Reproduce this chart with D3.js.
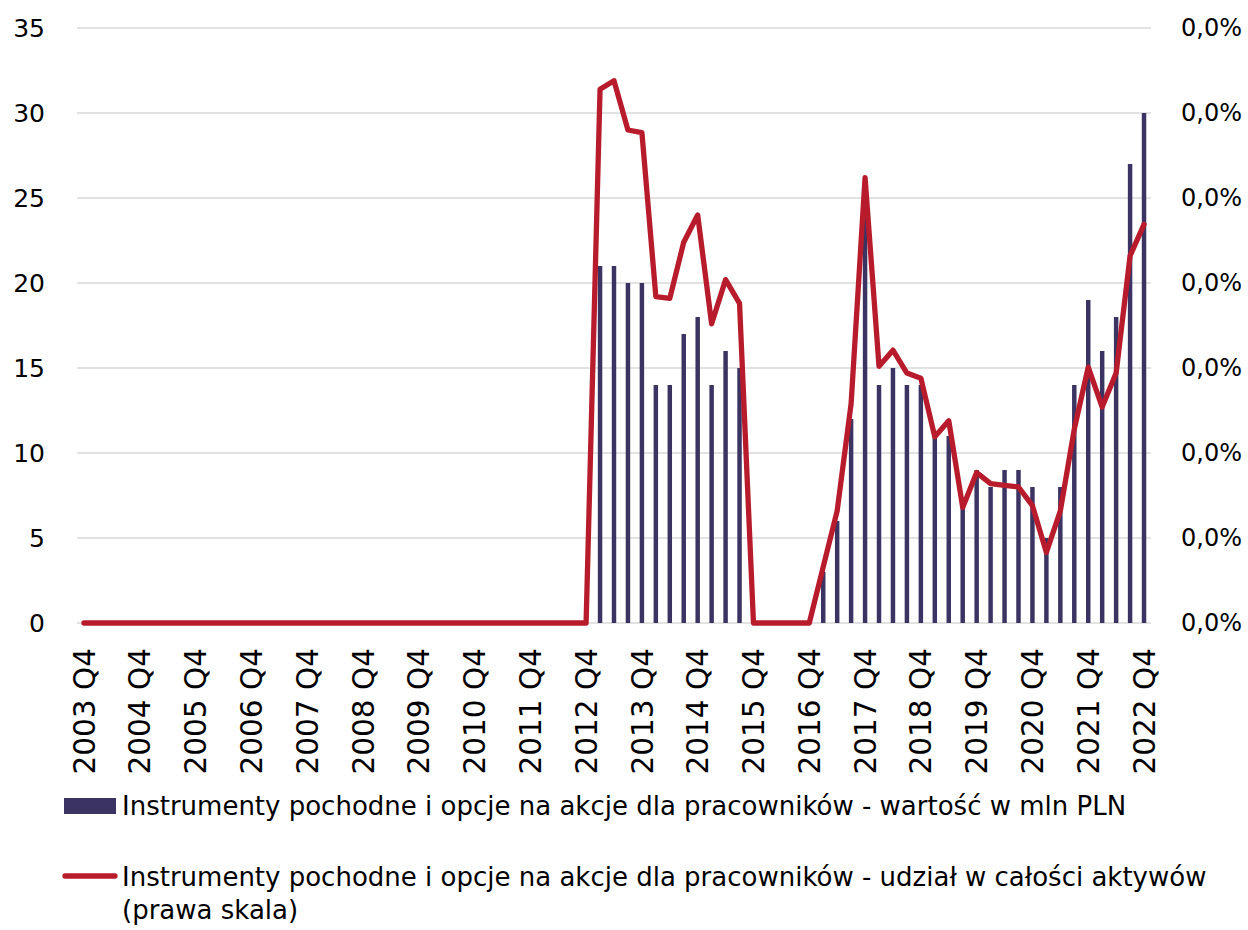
<!DOCTYPE html>
<html>
<head>
<meta charset="utf-8">
<script src="https://cdn.jsdelivr.net/npm/d3@7"></script>
<style>
  html, body { margin: 0; padding: 0; background: #ffffff; }
  svg { display: block; }
  text { font-family: "DejaVu Sans", "Open Sans", sans-serif; fill: #000; }
</style>
</head>
<body>
<svg id="chart" width="1248" height="930"></svg>
<script>
// Quarters from 2003 Q4 to 2022 Q4
const firstYear = 2003, lastYear = 2022;
const quarters = [];
for (let y = firstYear; y <= lastYear; y++) {
  for (let q = 1; q <= 4; q++) {
    if (y === firstYear && q < 4) continue;
    quarters.push(`${y} Q${q}`);
  }
}

// Value of derivatives and employee stock options, mln PLN
const valueMln = [
  0, 0, 0, 0, 0, 0, 0, 0, 0, 0,          // 2003 Q4 - 2006 Q1
  0, 0, 0, 0, 0, 0, 0, 0, 0, 0,          // 2006 Q2 - 2008 Q3
  0, 0, 0, 0, 0, 0, 0, 0, 0, 0,          // 2008 Q4 - 2011 Q1
  0, 0, 0, 0, 0, 0, 0,                   // 2011 Q2 - 2012 Q4
  21, 21, 20, 20, 14, 14, 17, 18, 14, 16, 15, // 2013 Q1 - 2015 Q3
  0, 0, 0, 0, 0,                         // 2015 Q4 - 2016 Q4
  3, 6, 12, 24, 14, 15, 14, 14, 11, 11, 7, 9, // 2017 Q1 - 2019 Q4
  8, 9, 9, 8, 5, 8, 14, 19, 16, 18, 27, 30    // 2020 Q1 - 2022 Q4
];

// Share in total assets, % (right scale)
const sharePct = [
  0, 0, 0, 0, 0, 0, 0, 0, 0, 0,
  0, 0, 0, 0, 0, 0, 0, 0, 0, 0,
  0, 0, 0, 0, 0, 0, 0, 0, 0, 0,
  0, 0, 0, 0, 0, 0, 0,
  0.0314, 0.0319, 0.0290, 0.02885, 0.0192, 0.0191, 0.0224, 0.0240, 0.0176, 0.0202, 0.0188,
  0, 0, 0, 0, 0,
  0.0033, 0.0066, 0.0129, 0.0262, 0.0151, 0.01605, 0.0147, 0.0144, 0.01095, 0.0119, 0.0068, 0.00885,
  0.0082, 0.0081, 0.0080, 0.0069, 0.00415, 0.0066, 0.0114, 0.01505, 0.0127, 0.0147, 0.0216, 0.02345
];

const leftTicks = [0, 5, 10, 15, 20, 25, 30, 35];
const rightTicks = [0, 0.005, 0.01, 0.015, 0.02, 0.025, 0.03, 0.035];

const barLabel = "Instrumenty pochodne i opcje na akcje dla pracowników - wartość w mln PLN";
const lineLabel = ["Instrumenty pochodne i opcje na akcje dla pracowników - udział w całości aktywów", "(prawa skala)"];

const barColor = "#3b3362";
const lineColor = "#b81c2c";
const gridColor = "#d9d9d9";
const font = '"DejaVu Sans", "Open Sans", sans-serif';

const plot = { left: 77, right: 1151, top: 28, bottom: 623 };
const svg = d3.select("#chart");

const x = d3.scaleBand()
  .domain(quarters)
  .range([plot.left, plot.right])
  .paddingInner(0.68)
  .paddingOuter(0.34);

const yLeft = d3.scaleLinear().domain([0, 35]).range([plot.bottom, plot.top]);
const yRight = d3.scaleLinear().domain([0, 0.035]).range([plot.bottom, plot.top]);

const pl = d3.formatLocale({ decimal: ",", thousands: " ", grouping: [3], currency: ["", " zł"] });
const fmtPct = v => pl.format(".1f")(v) + "%";

// gridlines
svg.append("g")
  .selectAll("line")
  .data(leftTicks)
  .join("line")
  .attr("x1", plot.left).attr("x2", plot.right)
  .attr("y1", d => yLeft(d)).attr("y2", d => yLeft(d))
  .attr("stroke", gridColor).attr("stroke-width", 1.5);

// left axis
const leftAxis = svg.append("g")
  .attr("transform", `translate(${plot.left},0)`)
  .call(d3.axisLeft(yLeft).tickValues(leftTicks).tickSize(0).tickPadding(32));
leftAxis.select(".domain").remove();
leftAxis.selectAll("text")
  .style("font-family", font)
  .attr("font-size", 25).attr("fill", "#000");

// right axis
const rightAxis = svg.append("g")
  .attr("transform", `translate(${plot.right},0)`)
  .call(d3.axisRight(yRight).tickValues(rightTicks).tickFormat(fmtPct).tickSize(0).tickPadding(30));
rightAxis.select(".domain").remove();
rightAxis.selectAll("text")
  .style("font-family", font)
  .attr("font-size", 24).attr("fill", "#000");

// bottom axis: every fourth quarter labelled
const bottomAxis = svg.append("g")
  .attr("transform", `translate(0,${plot.bottom})`)
  .call(d3.axisBottom(x).tickValues(quarters.filter(q => q.endsWith("Q4"))).tickSize(0).tickPadding(0));
bottomAxis.select(".domain").remove();
bottomAxis.selectAll("text")
  .style("font-family", font)
  .attr("font-size", 29.5).attr("fill", "#000")
  .attr("text-anchor", "end")
  .attr("transform", "rotate(-90)")
  .attr("x", -25).attr("y", 0).attr("dy", "0.36em");

// bars
svg.append("g")
  .selectAll("rect")
  .data(quarters.map((q, i) => ({ q, v: valueMln[i] })).filter(d => d.v > 0))
  .join("rect")
  .attr("x", d => x(d.q))
  .attr("width", x.bandwidth())
  .attr("y", d => yLeft(d.v))
  .attr("height", d => yLeft(0) - yLeft(d.v))
  .attr("fill", barColor);

// share line
const line = d3.line()
  .x((d, i) => x(quarters[i]) + x.bandwidth() / 2)
  .y(d => yRight(d));
svg.append("path")
  .datum(sharePct)
  .attr("d", line)
  .attr("fill", "none")
  .attr("stroke", lineColor)
  .attr("stroke-width", 5.3)
  .attr("stroke-linejoin", "round")
  .attr("stroke-linecap", "round");

// legend
const legend = svg.append("g").style("font-family", font);
legend.append("rect")
  .attr("x", 64).attr("y", 798).attr("width", 52).attr("height", 16)
  .attr("fill", barColor);
legend.append("text")
  .attr("x", 122).attr("y", 815)
  .attr("font-size", 26)
  .text(barLabel);
legend.append("line")
  .attr("x1", 65).attr("x2", 115).attr("y1", 876).attr("y2", 876)
  .attr("stroke", lineColor).attr("stroke-width", 5.3).attr("stroke-linecap", "round");
legend.append("text")
  .attr("x", 122).attr("y", 886)
  .attr("font-size", 26)
  .text(lineLabel[0]);
legend.append("text")
  .attr("x", 122).attr("y", 919)
  .attr("font-size", 26)
  .text(lineLabel[1]);
</script>
</body>
</html>
